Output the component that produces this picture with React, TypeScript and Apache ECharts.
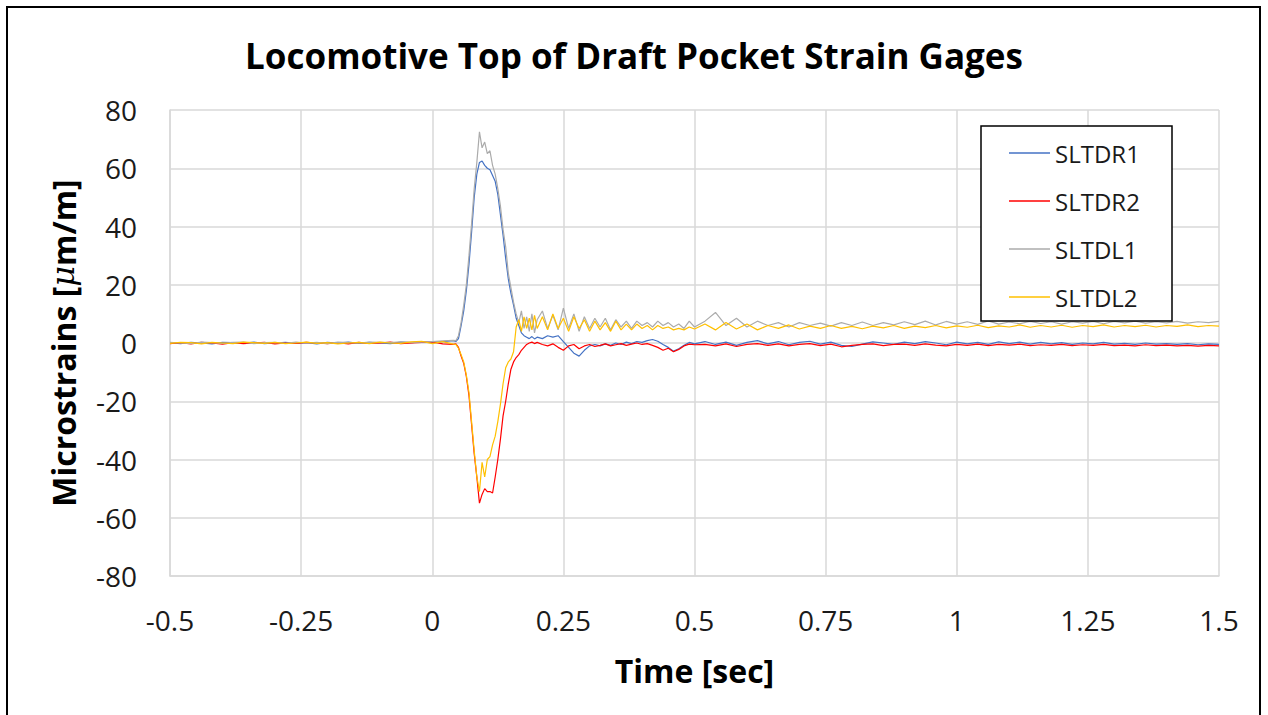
import React, { useEffect, useRef } from "react";
import * as echarts from "echarts";

// ---- time axis segments (seconds) ----
const timeA = [-0.5, -0.48, -0.46, -0.44, -0.42, -0.4, -0.38, -0.36, -0.34, -0.32, -0.3, -0.28, -0.26, -0.24, -0.22, -0.2, -0.18, -0.16, -0.14, -0.12, -0.1, -0.08, -0.06, -0.04, -0.02, 0, 0.02, 0.04];
const timeB = [0.045, 0.05, 0.055, 0.06, 0.065, 0.07, 0.075, 0.08, 0.085, 0.09, 0.095, 0.1, 0.105, 0.11, 0.115, 0.12, 0.125, 0.13, 0.135, 0.14, 0.145, 0.15, 0.155, 0.16, 0.165, 0.17, 0.175, 0.18, 0.185, 0.19, 0.195, 0.2];
const timeC = [0.21, 0.22, 0.23, 0.24, 0.25, 0.26, 0.27, 0.28, 0.29, 0.3, 0.31, 0.32, 0.33, 0.34, 0.35, 0.36, 0.37, 0.38, 0.39, 0.4, 0.41, 0.42, 0.43, 0.44, 0.45, 0.46, 0.47, 0.48, 0.49, 0.5];
const timeD = [0.52, 0.54, 0.56, 0.58, 0.6, 0.62, 0.64, 0.66, 0.68, 0.7, 0.72, 0.74, 0.76, 0.78, 0.8, 0.82, 0.84, 0.86, 0.88, 0.9, 0.92, 0.94, 0.96, 0.98, 1.0, 1.02, 1.04, 1.06, 1.08, 1.1, 1.12, 1.14, 1.16, 1.18, 1.2, 1.22, 1.24, 1.26, 1.28, 1.3, 1.32, 1.34, 1.36, 1.38, 1.4, 1.42, 1.44, 1.46, 1.48, 1.5];

// ---- SLTDR1 (blue) ----
const r1A = [0.1, -0.2, 0.2, 0, -0.3, 0.2, 0.1, -0.1, 0.3, -0.2, 0, 0.2, -0.1, 0.1, -0.3, 0.2, 0, 0.3, -0.1, 0.2, 0, -0.2, 0.3, 0.1, 0.4, 0.2, 0.5, 0.8];
const r1B = [0.5, 1.5, 6, 11, 18, 27, 38, 50, 58, 62, 62.5, 61, 60, 59.5, 57.5, 55.5, 51, 44, 37, 29, 22, 17, 13, 8.5, 6, 3.5, 2.5, 2, 1.5, 2.2, 1.4, 2];
const r1C = [1.5, 2.5, 2, 2.5, 0.5, -1.5, -3.5, -4.5, -2.5, -1, -0.5, -1, -0.3, -0.8, 0, -0.5, 0.3, -0.2, 0.5, 0.2, 0.8, 1.2, 0.6, -0.5, -1.5, -2.8, -2, -0.8, 0.2, -0.3];
const r1D = [0.5, -0.5, 0.3, -0.8, 0.2, 0.8, -0.3, 0.5, -0.6, 0.2, 0.6, -0.4, 0.3, -0.8, -1.2, -0.4, 0.4, 0, -0.5, 0.3, -0.2, 0.5, 0, -0.6, 0.3, -0.3, 0.2, -0.5, 0.4, -0.2, 0.3, -0.4, 0.2, -0.3, 0.1, -0.5, 0, -0.3, 0.2, -0.4, -0.1, -0.5, 0, -0.4, -0.2, -0.5, -0.2, -0.6, -0.3, -0.5];

// ---- SLTDR2 (red) ----
const r2A = [-0.2, 0.1, -0.3, 0.2, 0, -0.4, 0.1, -0.2, 0, 0.2, -0.3, 0, -0.1, 0.2, 0, -0.2, 0.1, -0.3, 0.2, -0.1, 0, 0.3, -0.2, 0, 0.2, 0.4, -0.3, -0.5];
const r2B = [-0.3, -1.5, -4.5, -7, -11.5, -18, -28, -38, -46, -55, -52, -50, -51, -51, -51.5, -46, -40, -33, -25, -20, -14, -9, -6.5, -5, -4, -2.5, -1.5, -0.5, 0, 0.3, -0.2, 0.2];
const r2C = [-0.5, -1, -0.3, -1.5, -2.5, -1, -0.5, -2, -1, -0.5, -1.2, -0.8, -0.3, -1, -0.6, -0.2, -0.8, -0.4, 0, -0.5, -0.2, -0.8, -1.5, -2.5, -1.8, -3, -2.2, -1, -0.4, -0.6];
const r2D = [-0.5, -1, -0.3, -1.2, -0.5, -0.2, -0.8, -0.3, -1, -0.5, -0.2, -0.9, -0.4, -1.3, -0.8, -0.5, -0.3, -0.9, -0.5, -0.4, -0.8, -0.3, -0.7, -1, -0.5, -0.8, -0.4, -0.9, -0.5, -0.7, -0.4, -0.9, -0.6, -0.8, -0.5, -0.9, -0.6, -0.8, -0.5, -0.9, -0.7, -1, -0.6, -0.9, -0.7, -1, -0.8, -1.1, -0.8, -1];

// ---- SLTDL1 (grey) ----
const l1A = [0.2, 0, -0.2, 0.3, 0.1, -0.1, 0.2, 0.3, -0.2, 0.1, 0.2, -0.1, 0.3, 0, 0.2, -0.2, 0.3, 0.1, 0, 0.3, 0.2, 0.1, 0.4, 0.2, 0.3, 0.5, 0.7, 0.9];
const l1B = [0.8, 2.5, 7, 13, 20, 30, 41, 53, 62, 72.5, 67, 69, 65, 66, 61, 58, 53, 47, 39, 33, 24, 19, 14, 10, 7, 11, 5, 9, 4, 10, 3.5, 8];
const l1C = [11, 5, 9.5, 4.5, 12, 5, 10, 4, 9, 5, 8.5, 5.5, 8.5, 4.5, 8, 5.5, 7.5, 5, 7.5, 6, 7, 5.5, 7.5, 6, 7, 5.5, 6.5, 5, 7.5, 5.5];
const l1D = [7.5, 10.5, 6, 8.5, 5.5, 7.5, 6, 7, 5.5, 7, 6, 6.8, 5.8, 7, 6, 7.2, 6, 7, 6.2, 7.3, 6.3, 7.5, 6.2, 7.4, 6.5, 7.3, 6.4, 7.6, 6.5, 7.2, 6.6, 7.4, 6.7, 7.3, 6.5, 7.3, 6.8, 7.4, 6.6, 7.4, 6.9, 7.5, 6.8, 7.3, 6.9, 7.4, 6.8, 7.3, 7, 7.4];

// ---- SLTDL2 (yellow) ----
const l2A = [-0.1, 0.2, 0.1, -0.3, 0.2, 0, -0.2, 0.3, 0.1, -0.1, 0.2, -0.2, 0, 0.3, -0.1, 0.1, -0.3, 0, 0.2, -0.2, 0.3, 0, -0.1, 0.4, 0.6, -0.2, 0.5, -0.4];
const l2B = [-0.5, -1.8, -4, -6.5, -11, -17, -27, -37, -46, -51, -41, -46, -40, -39, -35, -32, -27, -21, -14, -8.5, -6.5, -5.5, -3, 5.5, 8, 4, 9, 5, 8.5, 4.5, 9.5, 5];
const l2C = [9, 4.5, 10, 5, 8.5, 4, 9, 5, 8, 4, 7.5, 4.5, 7, 4, 7.5, 4.5, 6.5, 4.5, 6.5, 5, 6, 4.5, 6, 5, 5.5, 4.5, 5, 4.5, 5.5, 4.8];
const l2D = [6.5, 4.5, 7, 4.8, 6.5, 4.5, 6, 5, 6.2, 4.8, 5.8, 5, 6, 5, 5.7, 4.9, 5.8, 5.2, 6, 5, 5.8, 5.3, 6, 5.2, 5.9, 5.4, 6.1, 5.3, 5.9, 5.5, 6.2, 5.4, 6, 5.5, 6.1, 5.4, 6, 5.6, 6.2, 5.5, 6, 5.6, 6.1, 5.5, 6, 5.7, 6.2, 5.6, 6, 5.8];

const seriesNames = ["SLTDR1", "SLTDR2", "SLTDL1", "SLTDL2"];
const seriesColors = ["#4472C4", "#FF0000", "#ABABAB", "#FFC000"];
const yTicks = { min: -80, max: 80, step: 20 };
const xTicks = { min: -0.5, max: 1.5, step: 0.25 };

const FONT = "Open Sans";

function pairs(parts: number[][]): number[][] {
  const t = [...timeA, ...timeB, ...timeC, ...timeD];
  const v = parts.flat();
  return t.map((x, i) => [x, v[i]]);
}

export default function App() {
  const ref = useRef<HTMLDivElement>(null);
  useEffect(() => {
    document.body.style.margin = "0";
    const chart = echarts.init(ref.current!, null, { renderer: "svg" });
    const values = [
      pairs([r1A, r1B, r1C, r1D]),
      pairs([r2A, r2B, r2C, r2D]),
      pairs([l1A, l1B, l1C, l1D]),
      pairs([l2A, l2B, l2C, l2D]),
    ];
    const grey = "#D9D9D9";
    chart.setOption({
      animation: false,
      backgroundColor: "#ffffff",
      title: {
        text: "Locomotive Top of Draft Pocket Strain Gages",
        left: "center",
        top: 33,
        padding: 0,
        textStyle: { fontFamily: FONT, fontSize: 35, fontWeight: "bold", color: "#000", lineHeight: 44 },
      },
      grid: { left: 170, top: 110, right: 49, bottom: 139 },
      xAxis: {
        type: "value",
        min: xTicks.min,
        max: xTicks.max,
        interval: xTicks.step,
        axisLine: { show: true, onZero: false, lineStyle: { color: grey, width: 1.5 } },
        axisTick: { show: false },
        splitLine: { show: true, lineStyle: { color: grey, width: 1.5 } },
        axisLabel: { fontFamily: FONT, fontSize: 28, color: "#1a1a1a", margin: 30, lineHeight: 28 },
        name: "Time [sec]",
        nameLocation: "middle",
        nameGap: 76,
        nameTextStyle: { fontFamily: FONT, fontSize: 32, fontWeight: "bold", color: "#000", lineHeight: 36 },
      },
      yAxis: {
        type: "value",
        min: yTicks.min,
        max: yTicks.max,
        interval: yTicks.step,
        axisLine: { show: true, onZero: false, lineStyle: { color: grey, width: 1.5 } },
        axisTick: { show: false },
        splitLine: { show: true, lineStyle: { color: grey, width: 1.5 } },
        axisLabel: { fontFamily: FONT, fontSize: 28, color: "#1a1a1a", margin: 33 },
        name: "{b|Microstrains [}{i|μ}{b|m/m]}",
        nameLocation: "middle",
        nameGap: 89,
        nameTextStyle: {
          fontFamily: FONT,
          fontSize: 32,
          fontWeight: "bold",
          color: "#000",
          lineHeight: 36,
          rich: {
            b: { fontFamily: FONT, fontSize: 32, fontWeight: "bold", color: "#000", lineHeight: 36 },
            i: { fontFamily: "DejaVu Serif", fontSize: 32, fontStyle: "italic", fontWeight: "normal", color: "#000", lineHeight: 36 },
          },
        },
      },
      legend: {
        data: seriesNames,
        orient: "vertical",
        left: 1009,
        top: 141,
        padding: 0,
        icon: "path://M0,0H40V1.4H0Z",
        itemWidth: 41,
        itemHeight: 24,
        itemGap: 24,
        z: 10,
        textStyle: { fontFamily: FONT, fontSize: 24, color: "#1a1a1a", lineHeight: 24 },
      },
      graphic: [
        {
          type: "rect",
          z: 5,
          shape: { x: 981, y: 126, width: 191, height: 195 },
          style: { fill: "#ffffff", stroke: "#000000", lineWidth: 1.5 },
        },
        {
          type: "rect",
          z: 0,
          shape: { x: 7, y: 7, width: 1253, height: 740 },
          style: { fill: "none", stroke: "#000000", lineWidth: 2 },
        },
      ],
      series: seriesNames.map((name, i) => ({
        name,
        type: "line",
        data: values[i],
        showSymbol: false,
        symbol: "none",
        color: seriesColors[i],
        lineStyle: { color: seriesColors[i], width: 1.2 },
        z: 2 + i * 0.01,
      })),
    });
    return () => chart.dispose();
  }, []);
  return <div ref={ref} style={{ position: "absolute", left: 0, top: 0, width: 1268, height: 715 }} />;
}
